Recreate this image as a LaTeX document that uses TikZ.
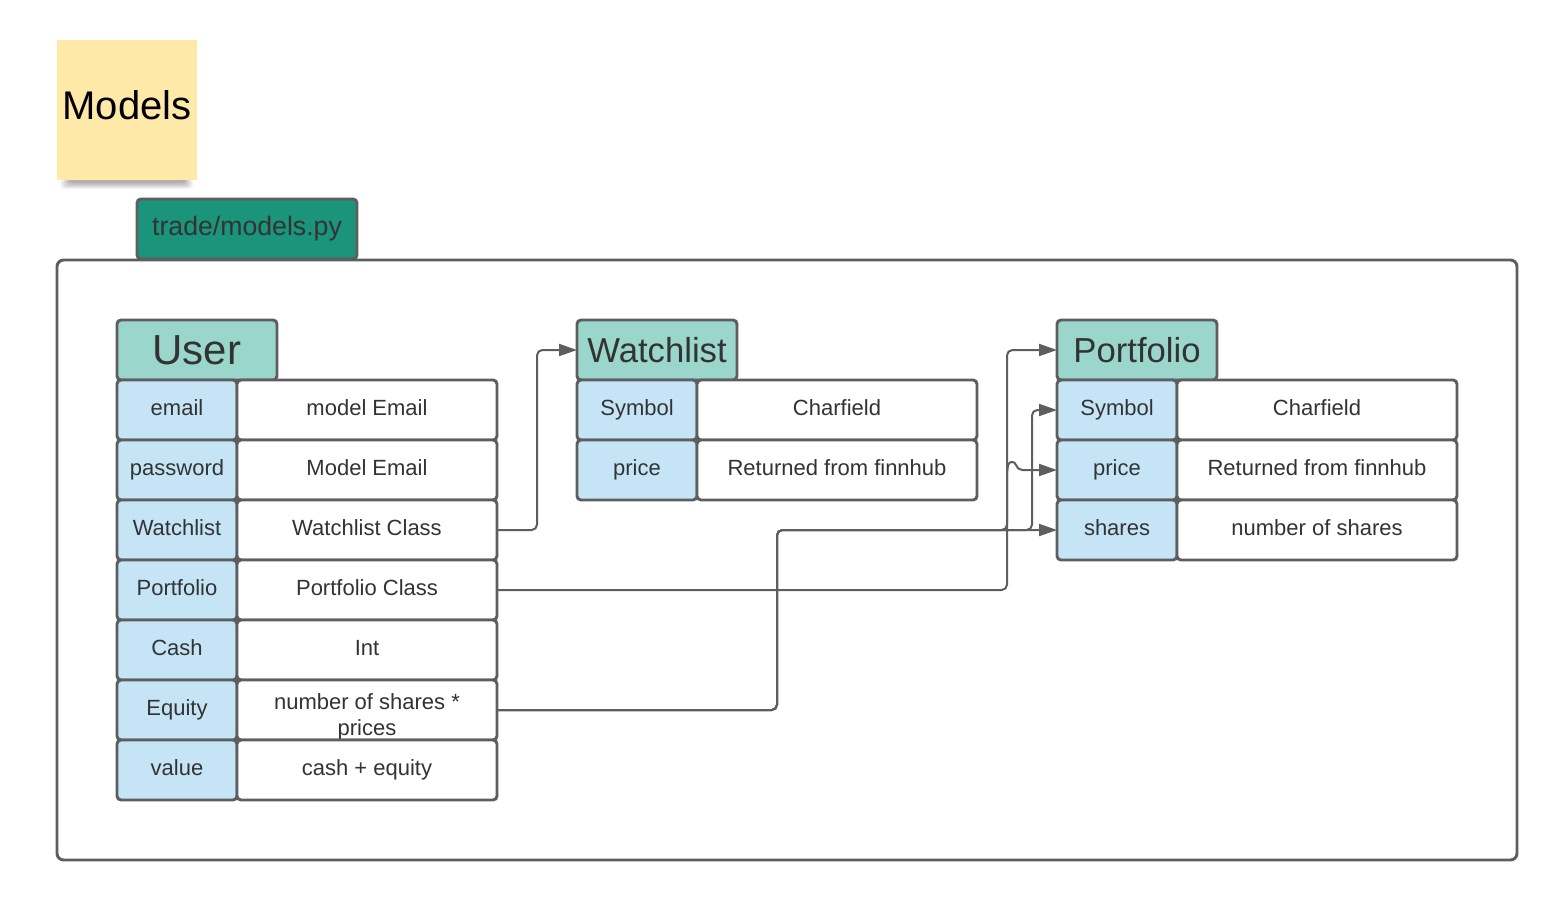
\documentclass[tikz,border=0pt]{standalone}
\usepackage{fontspec}
\setmainfont{Liberation Sans}
\usetikzlibrary{arrows.meta}
\definecolor{bordc}{RGB}{94,94,94}
\definecolor{txtc}{RGB}{51,51,51}
\definecolor{headc}{RGB}{154,214,203}
\definecolor{cellc}{RGB}{197,229,247}
\definecolor{tabc}{RGB}{26,148,122}
\definecolor{notec}{RGB}{255,233,168}
\begin{document}
\begin{tikzpicture}[x=0.75pt,y=-0.75pt,
 box/.style={draw=bordc, line width=2.2pt, rounded corners=3pt, inner sep=0pt, outer sep=0pt, text=txtc, font=\fontsize{16.5}{20}\selectfont},
 lcell/.style={box, fill=cellc, minimum width=90pt, minimum height=45pt, text height=10pt, text depth=2.5pt},
 rcell/.style={box, fill=white, minimum width=195pt, minimum height=45pt, text height=10pt, text depth=2.5pt},
 rcellw/.style={box, fill=white, minimum width=210pt, minimum height=45pt, text height=10pt, text depth=2.5pt},
 head/.style={box, fill=headc, minimum width=120pt, minimum height=45pt, font=\fontsize{26}{30}\selectfont},
 conn/.style={draw=bordc, line width=1.5pt, rounded corners=4pt, -{Triangle[length=13.5pt,width=9pt]}},
]
\useasboundingbox (0,0) rectangle (1558,900);
\fill[white] (0,0) rectangle (1558,900);

% sticky note shadow
\foreach \i in {0,1,...,7}{
  \fill[black, opacity=0.045, rounded corners=3pt] (60+1.5*\i,179) rectangle (193-1.2*\i,189-0.9*\i);
}
\node[fill=notec, minimum width=105pt, minimum height=105pt, inner sep=0pt, outer sep=0pt] (note) at (127,110) {};
\node[font=\fontsize{30}{34}\selectfont, text=black, inner sep=0pt] (notetext) at (127,105) {Models};

% container and tab
\node[draw=bordc, line width=2.2pt, rounded corners=5pt, minimum width=1095pt, minimum height=450pt, inner sep=0pt, outer sep=0pt] (frame) at (787,560) {};
\node[box, fill=tabc, minimum width=165pt, minimum height=45pt, font=\fontsize{20}{24}\selectfont] (tab) at (247,229) {trade/models.py};

% User
\node[head, font=\fontsize{31.5}{36}\selectfont] (uh) at (197,350) {User};
\node[lcell] (u1l) at (177,410) {email};
\node[rcell] (u1r) at (367,410) {model Email};
\node[lcell] (u2l) at (177,470) {password};
\node[rcell] (u2r) at (367,470) {Model Email};
\node[lcell] (u3l) at (177,530) {Watchlist};
\node[rcell] (u3r) at (367,530) {Watchlist Class};
\node[lcell] (u4l) at (177,590) {Portfolio};
\node[rcell] (u4r) at (367,590) {Portfolio Class};
\node[lcell] (u5l) at (177,650) {Cash};
\node[rcell] (u5r) at (367,650) {Int};
\node[lcell] (u6l) at (177,710) {Equity};
\node[rcell] (u6r) at (367,710) {};
\node[text=txtc, font=\fontsize{16.5}{19.5}\selectfont, align=center, inner sep=0pt] (u6t) at (367,717) {number of shares *\\prices};
\node[lcell] (u7l) at (177,770) {value};
\node[rcell] (u7r) at (367,770) {cash + equity};

% Watchlist
\node[head] (wh) at (657,350) {Watchlist};
\node[lcell] (w1l) at (637,410) {Symbol};
\node[rcellw] (w1r) at (837,410) {Charfield};
\node[lcell] (w2l) at (637,470) {price};
\node[rcellw] (w2r) at (837,470) {Returned from finnhub};

% Portfolio
\node[head] (ph) at (1137,350) {Portfolio};
\node[lcell] (p1l) at (1117,410) {Symbol};
\node[rcellw] (p1r) at (1317,410) {Charfield};
\node[lcell] (p2l) at (1117,470) {price};
\node[rcellw] (p2r) at (1317,470) {Returned from finnhub};
\node[lcell] (p3l) at (1117,530) {shares};
\node[rcellw] (p3r) at (1317,530) {number of shares};

% connectors
\draw[conn] (u3r.east) -- (537,530) -- (537,350) -- (wh.west);
\draw[conn] (u4r.east) -- (1007,590) -- (1007,350) -- (ph.west);
\draw[conn] (u6r.east) -- (777,710) -- (777,530) -- (p3l.west);
\draw[conn] (u6r.east) -- (777,710) -- (777,530) -- (1032,530) -- (1032,410) -- (p1l.west);
\draw[conn] (u6r.east) -- (777,710) -- (777,530) -- (1007,530) -- (1007,470) .. controls (1009,461) and (1015,461) .. (1017,470) -- (p2l.west);
\end{tikzpicture}
\end{document}
